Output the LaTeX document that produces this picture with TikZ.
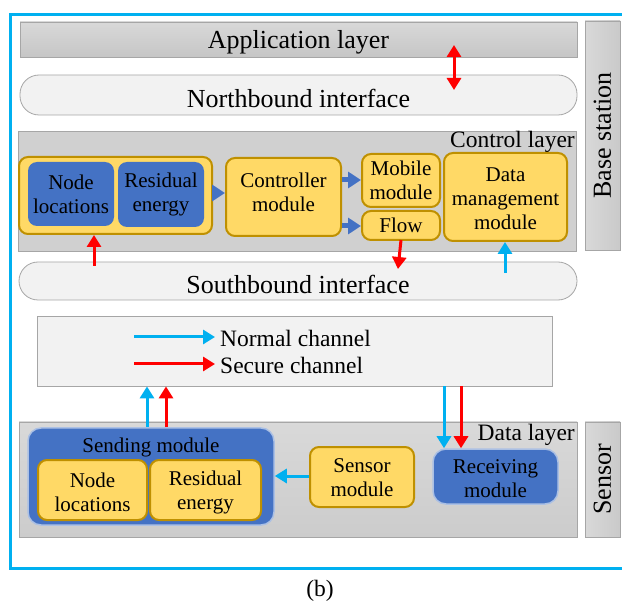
\documentclass[tikz,border=0pt]{standalone}
\usepackage{fontspec}
\setmainfont{Liberation Serif}
\usetikzlibrary{arrows.meta,fit}
\definecolor{cyanA}{HTML}{00B0F0}
\definecolor{blueA}{HTML}{4472C4}
\definecolor{yelA}{HTML}{FFD966}
\definecolor{goldA}{HTML}{BF9000}
\definecolor{grayL}{HTML}{F2F2F2}
\definecolor{grayB}{HTML}{A6A6A6}
\definecolor{grayF}{HTML}{D0D0D0}
\definecolor{redA}{HTML}{FF0000}
\newcommand\myBig{\fontsize{26}{28}\selectfont}
\newcommand\myMid{\fontsize{23.5}{26}\selectfont}
\newcommand\mySmall{\fontsize{21}{24}\selectfont}
\begin{document}
\begin{tikzpicture}[x=1pt,y=-1pt,
  band/.style={draw=grayB, line width=0.8pt, top color=gray!30, bottom color=gray!45, inner sep=0pt, font=\myBig},
  vband/.style={draw=grayB, line width=0.8pt, left color=gray!30, right color=gray!42, inner sep=0pt},
  layer/.style={draw=grayB, line width=0.8pt, fill=grayF, inner sep=0pt},
  pill/.style={draw=grayB, line width=0.8pt, fill=grayL, rounded corners=19pt, inner sep=0pt, font=\myBig},
  legendbox/.style={draw=grayB, line width=0.8pt, fill=grayL, inner sep=0pt},
  yel/.style={draw=goldA, fill=yelA, line width=2pt, rounded corners=9pt, inner sep=0pt, align=center, font=\mySmall},
  blu/.style={fill=blueA, rounded corners=9pt, inner sep=0pt, align=center, font=\mySmall},
  bluglow/.style={fill=blueA, draw=blueA!45!white, line width=1.5pt, rounded corners=13pt, inner sep=0pt, align=center, font=\mySmall},
  redar/.style={draw=redA, line width=3pt, -{Triangle[width=14pt,length=12pt]}},
  cyar/.style={draw=cyanA, line width=3pt, -{Triangle[width=14pt,length=12pt]}},
  bluar/.style={draw=blueA, line width=5pt, -{Triangle[width=16pt,length=13pt]}},
  lbl/.style={font=\myMid, inner sep=0pt}
]
\useasboundingbox (0,0) rectangle (622,604);
\fill[white] (0,0) rectangle (622,604);
% outer frame
\draw[cyanA, line width=3pt] (10,15) rectangle (628,568);

% application layer
\node[band, fit={(20,22)(577,57)}] (app) {};
\node[font=\myBig] at ([yshift=-3pt]app.center) {Application layer};
% northbound
\node[pill, fit={(20,75)(577,115)}] (north) {};
\node[font=\myBig] at ([yshift=-3pt]north.center) {Northbound interface};
\coordinate (da1) at (454,45);
\coordinate (da2) at (454,90);
\draw[draw=redA, line width=3pt, {Triangle[width=14pt,length=12pt]}-{Triangle[width=14pt,length=12pt]}] (da1) -- (da2);

% base station bar
\node[vband, fit={(585,21)(620,250)}] (bs) {};
\node[font=\myBig, rotate=90] at (bs.center) {Base station};

% control layer
\node[layer, fit={(18,131)(576,251)}] (ctrl) {};
\node[lbl, anchor=east] (ctrllbl) at (575,142) {Control layer};
\node[yel, fit={(19,157)(212,234)}] (grp) {};
\node[blu, fit={(28,162)(114,226)}] (nl) {};
\node[font=\mySmall, align=center] at (nl.center) {Node\\locations};
\node[blu, fit={(118,162)(204,227)}] (re) {};
\node[font=\mySmall, align=center] at (re.center) {Residual\\energy};
\node[yel, fit={(226,158)(341,236)}] (ctl) {};
\node[font=\mySmall, align=center] at ([yshift=5pt]ctl.center) {Controller\\module};
\node[yel, fit={(362,154)(440,207)}] (mob) {};
\node[font=\mySmall, align=center] at (mob.center) {Mobile\\module};
\node[yel, fit={(362,211)(440,240)}] (flow) {};
\node[font=\mySmall] at (flow.center) {Flow};
\node[yel, fit={(444,153)(567,241)}] (dm) {};
\node[font=\mySmall, align=center] at ([yshift=-2pt]dm.center) {Data\\management\\module};

\draw[bluar] (grp.east |- 0,193) -- (ctl.west |- 0,193);
\draw[bluar] (ctl.east |- 0,180) -- (mob.west |- 0,180);
\draw[bluar] (ctl.east |- 0,226) -- (flow.west |- 0,226);

% southbound
\node[pill, fit={(19,262)(577,300)}] (south) {};
\node[font=\myBig] at ([yshift=-3pt]south.center) {Southbound interface};

\coordinate (r1) at (94,266);
\draw[redar] (r1) -- (r1 |- grp.south);
\coordinate (r2) at (398,269);
\draw[redar] (flow.south |- 0,240) -- (r2);
\coordinate (c1) at (505,273);
\draw[cyar] (c1) -- (c1 |- dm.south);

% legend
\node[legendbox, fit={(37,316)(552,386)}] (leg) {};
\coordinate (ln1) at (134,337);
\coordinate (ln2) at (215,337);
\coordinate (ls1) at (134,364);
\coordinate (ls2) at (215,364);
\draw[cyar] (ln1) -- (ln2);
\draw[redar] (ls1) -- (ls2);
\node[lbl, anchor=west] (ntxt) at (220,338) {Normal channel};
\node[lbl, anchor=west] (stxt) at (220,365) {Secure channel};

% data layer
\node[layer, top color=gray!30, bottom color=gray!40, fit={(19,422)(577,537)}] (data) {};
\node[lbl, anchor=east] (datalbl) at (575,435) {Data layer};
\node[vband, fit={(585,422)(620,537)}] (sb) {};
\node[font=\myBig, rotate=90] at (sb.center) {Sensor};

\node[bluglow, fit={(28,428)(274,525)}] (send) {};
\node[font=\mySmall] at (151,447) {Sending module};
\node[yel, fit={(38,460)(147,520)}] (snl) {};
\node[font=\mySmall, align=center] at ([yshift=-2pt]snl.center) {Node\\locations};
\node[yel, fit={(150,460)(261,520)}] (sre) {};
\node[font=\mySmall, align=center] at ([yshift=-2pt]sre.center) {Residual\\energy};
\node[yel, fit={(310,447)(414,507)}] (sens) {};
\node[font=\mySmall, align=center] at ([yshift=-1pt]sens.center) {Sensor\\module};
\node[bluglow, fit={(433,449)(558,504)}] (recv) {};
\node[font=\mySmall, align=center] at ([yshift=-2pt]recv.center) {Receiving\\module};

\draw[cyar] (sens.west |- 0,476) -- (send.east |- 0,476);

\draw[cyar] (send.north -| 147,0) -- (leg.south -| 147,0);
\draw[redar] (send.north -| 166,0) -- (leg.south -| 166,0);
\draw[cyar] (leg.south -| 444,0) -- (recv.north -| 444,0);
\draw[redar] (leg.south -| 461,0) -- (recv.north -| 461,0);

\node[font=\myMid] (cap) at (320,591) {(b)};
\end{tikzpicture}
\end{document}
